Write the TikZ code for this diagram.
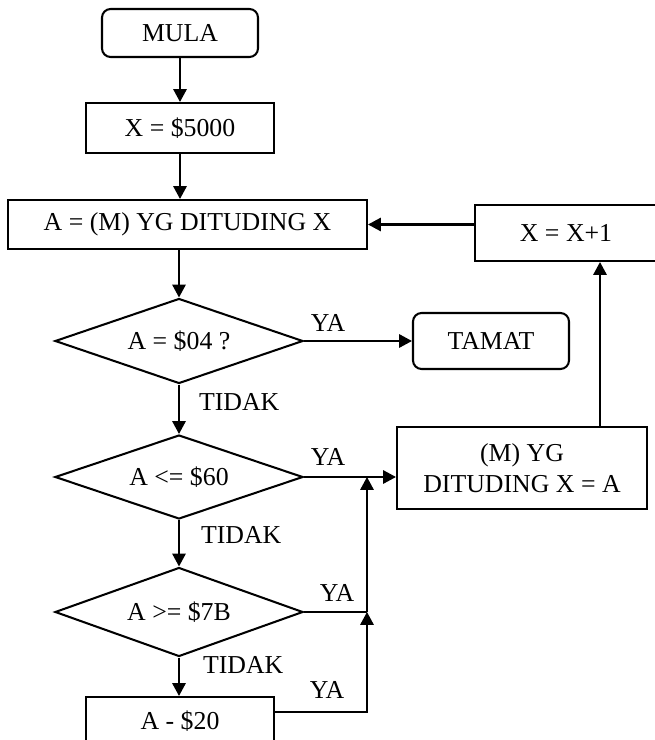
\documentclass[tikz,border=0pt]{standalone}
\usepackage{fontspec}
\setmainfont{Liberation Serif}
\usetikzlibrary{arrows.meta,positioning,calc,shapes.geometric}
\newcommand{\pxl}{0.465pt}
\tikzstyle{txt}=[font=\fontsize{12}{14.5}\selectfont]
\tikzstyle{box}=[txt, draw, rectangle, inner sep=0pt, align=center]
\tikzstyle{term}=[box, rounded corners=4pt]
\tikzstyle{cond}=[txt, draw, diamond, aspect=2.9, inner sep=0pt]
\tikzstyle{lbl}=[txt, inner sep=0pt]
\tikzstyle{flow}=[-{Triangle[length=6pt,width=6.2pt]}]

\begin{document}
\begin{tikzpicture}[x=\pxl, y=-\pxl, line width=0.95pt]
	\clip (0,0) rectangle (655,740);

	\node[term, minimum width=156*\pxl, minimum height=48*\pxl] (mula) at (180,33) {MULA};
	\node[box, minimum width=188*\pxl, minimum height=50*\pxl] (xinit) at (180,128) {X = \$5000};
	\node[box, minimum width=359*\pxl, minimum height=49*\pxl] (aset) at (187.5,224.5) {A = (M) YG DITUDING X};
	\node[box, minimum width=182*\pxl, minimum height=56*\pxl] (xinc) at (566,233) {X = X+1};

	\node[cond, minimum width=248*\pxl, minimum height=85*\pxl] (d1) at (179,341) {A = \$04 ?};
	\node[term, minimum width=156*\pxl, minimum height=56*\pxl] (tamat) at (491,341) {TAMAT};
	\node[cond, minimum width=248*\pxl, minimum height=84*\pxl] (d2) at (179,477) {A <= \$60};
	\node[box, minimum width=250*\pxl, minimum height=82*\pxl] (setm) at (522,468) {(M) YG\\DITUDING X = A};
	\node[cond, minimum width=248*\pxl, minimum height=89*\pxl] (d3) at (179,612) {A >= \$7B};
	\node[box, minimum width=188*\pxl, minimum height=48*\pxl] (a20) at (180,721) {A - \$20};

	\node[lbl] (ya1) at (328,323) {YA};
	\node[lbl] (ya2) at (328,457) {YA};
	\node[lbl] (ya3) at (337,593) {YA};
	\node[lbl] (ya4) at (327,690) {YA};
	\node[lbl, anchor=west] (no1) at (198,402) {TIDAK};
	\node[lbl, anchor=west] (no2) at (200,535) {TIDAK};
	\node[lbl, anchor=west] (no3) at (202,665) {TIDAK};

	\coordinate (mrg) at (367,712);
	\coordinate (up) at (600,0);

	\draw[flow] (mula) -- (xinit);
	\draw[flow] (xinit.south) -- (xinit.south |- aset.north);
	\draw[flow] (aset.south -| d1.north) -- (d1.north);
	\draw[flow] (d1.east) -- (tamat.west);
	\draw[flow] (d1.south) -- (d2.north);
	\draw[flow] (d2.east) -- (setm.west |- d2.east);
	\draw[flow] (d2.south) -- (d3.north);
	\draw[flow] (d3.south) -- (d3.south |- a20.north);
	\draw[flow] (a20.east |- mrg) -| (d3.east -| mrg);
	\draw (d3.east) -- (d3.east -| mrg);
	\draw[flow] (d3.east -| mrg) -- (d2.east -| mrg);
	\draw[flow] (setm.north -| up) -- (up |- xinc.south);
	\draw[flow] (xinc.west |- aset.east) -- (aset.east);

\end{tikzpicture}
\end{document}
